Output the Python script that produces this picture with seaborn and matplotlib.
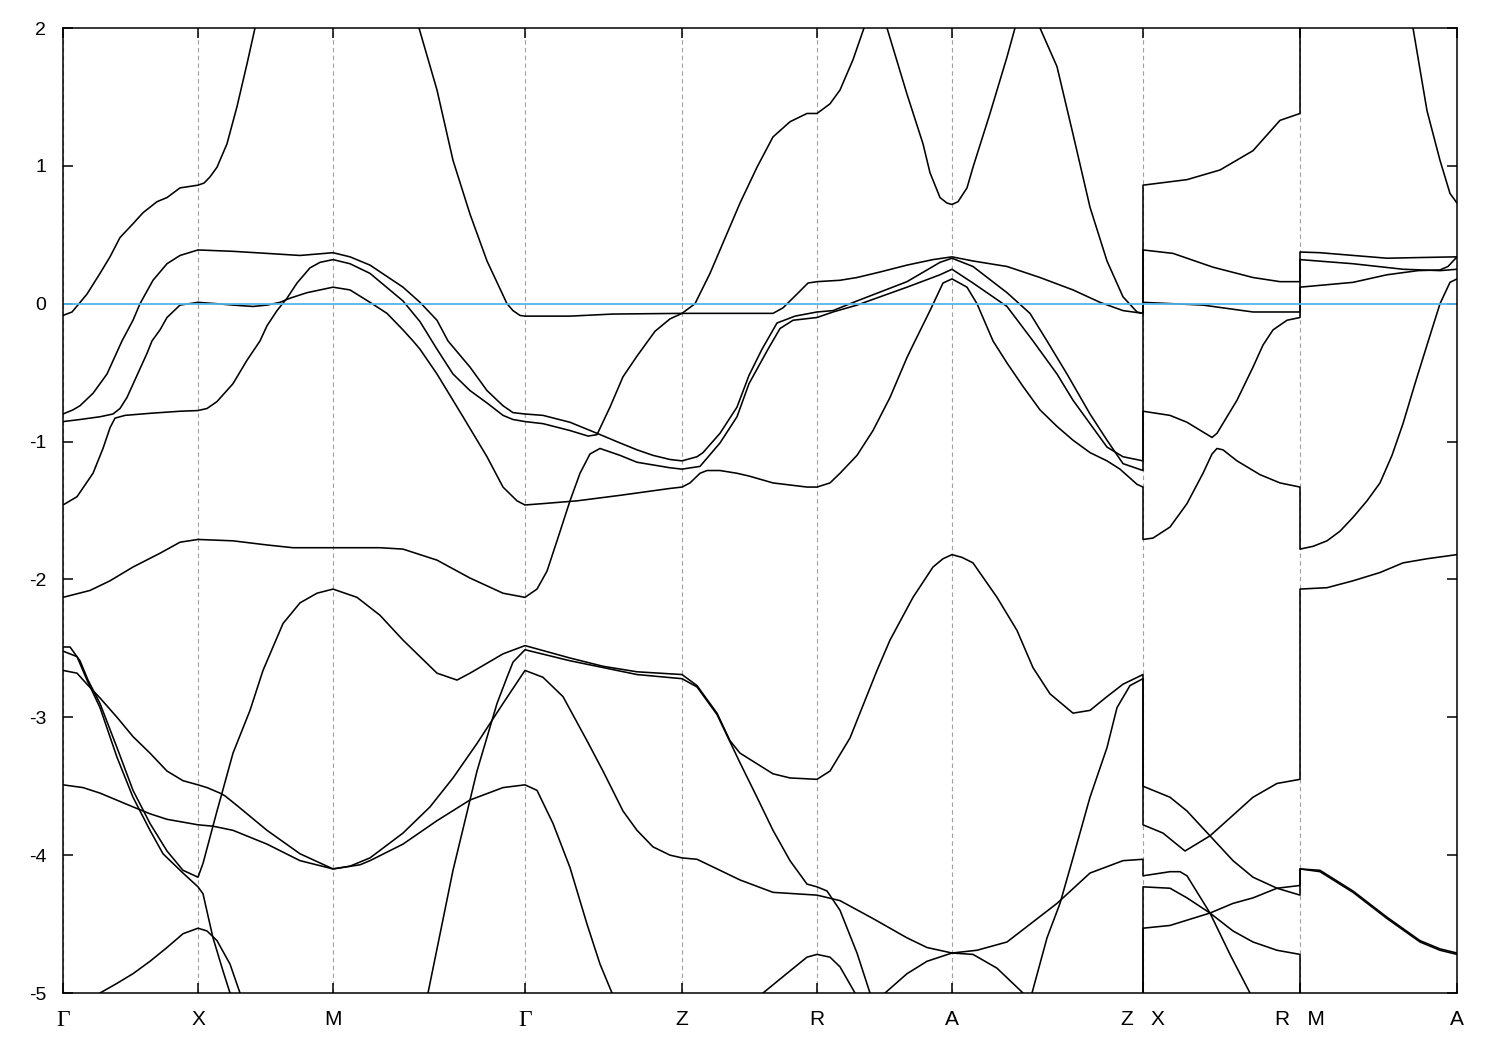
import matplotlib
matplotlib.use("Agg")
import matplotlib.pyplot as plt
import pandas as pd
import seaborn as sns

# ---------------- data ----------------
# high-symmetry points along the k-path (path distance units)
kpoint_pos = [0, 135, 270, 462, 619, 754, 889, 1080, 1237, 1394]
kpoint_labels = ["Γ", "X", "M", "Γ", "Z", "R", "A", "Z   X", "R   M", "A"]
fermi_level = 0.0
y_ticks = [-5, -4, -3, -2, -1, 0, 1, 2]
y_tick_labels = ["-5", "-4", "-3", "-2", "-1", "0", "1", "2"]

band_01_k = [0, 9, 16, 24, 37, 47, 57, 70, 80, 94, 104, 117, 135, 141, 147, 154, 164, 174, 184, 192, 207,
             270, 337, 356, 374, 390, 407, 424, 444, 450, 457, 462, 507, 550, 619, 710, 720, 734, 745, 754, 777, 794,
             817, 844, 870, 889, 910, 944, 977, 1010, 1037, 1060, 1080, 1080, 1124, 1157, 1190, 1217, 1237, 1237, 1337, 1350,
             1364, 1377, 1387, 1394]
band_01_e = [-0.085, -0.06, 0.0, 0.07, 0.22, 0.34, 0.48, 0.58, 0.66, 0.74, 0.77, 0.84, 0.86, 0.875, 0.92, 0.99, 1.16, 1.43, 1.74, 2.0, 2.5,
             4.0, 2.6, 2.0, 1.55, 1.04, 0.65, 0.31, 0.0, -0.05, -0.085, -0.09, -0.09, -0.075, -0.07, -0.07, -0.03, 0.07, 0.15, 0.16, 0.17, 0.19,
             0.23, 0.28, 0.32, 0.34, 0.31, 0.27, 0.19, 0.10, 0.01, -0.05, -0.07, 0.86, 0.90, 0.97, 1.11, 1.33, 1.38, 3.5, 2.2, 2.0,
             1.40, 1.04, 0.80, 0.73]

band_02_k = [0, 10, 17, 30, 44, 59, 70, 77, 90, 104, 117, 135, 170, 204, 237, 270, 287, 307, 340, 357,
             374, 385, 407, 424, 440, 450, 462, 480, 507, 534, 557, 574, 590, 607, 619, 634, 640, 657, 674, 686,
             699, 714, 732, 754, 770, 794, 844, 877, 889, 910, 944, 967, 984, 1004, 1027, 1044, 1060, 1080, 1080, 1107,
             1124, 1149, 1154, 1174, 1190, 1200, 1210, 1224, 1237, 1237, 1290, 1324, 1355, 1377, 1385, 1394]
band_02_e = [-0.80, -0.77, -0.74, -0.65, -0.51, -0.27, -0.12, 0.0, 0.17, 0.29, 0.35, 0.39, 0.38, 0.365, 0.35, 0.37, 0.34, 0.28, 0.12, 0.01,
             -0.12, -0.27, -0.46, -0.63, -0.74, -0.79, -0.80, -0.81, -0.86, -0.94, -1.01, -1.06, -1.10, -1.13, -1.14, -1.11, -1.08, -0.94, -0.75, -0.52,
             -0.33, -0.14, -0.09, -0.06, -0.05, 0.02, 0.16, 0.30, 0.33, 0.27, 0.08, -0.07, -0.27, -0.51, -0.80, -0.99, -1.16, -1.21, -0.78, -0.81,
             -0.86, -0.97, -0.94, -0.70, -0.46, -0.30, -0.19, -0.12, -0.10, 0.12, 0.155, 0.21, 0.24, 0.245, 0.27, 0.34]

band_03_k = [0, 17, 37, 50, 57, 64, 74, 84, 89, 97, 104, 117, 135, 154, 170, 190, 204, 217, 227, 244,
             270, 287, 307, 324, 340, 350, 357, 374, 400, 424, 440, 454, 462, 480, 514, 557, 607, 619, 627, 637,
             644, 657, 674, 686, 710, 744, 754, 767, 777, 794, 810, 827, 844, 850, 867, 880, 889, 904, 914, 930,
             944, 960, 977, 994, 1010, 1027, 1044, 1057, 1074, 1080,
             1080, 1090, 1107, 1124, 1140, 1149, 1154, 1160, 1174, 1197, 1217, 1237,
             1237, 1250, 1264, 1277, 1290, 1304, 1317, 1329, 1340, 1352, 1364, 1377, 1387, 1394]
band_03_e = [-0.855, -0.84, -0.82, -0.80, -0.76, -0.68, -0.52, -0.36, -0.27, -0.19, -0.10, -0.01, 0.01, 0.0, -0.01, -0.02, -0.01, 0.01, 0.04, 0.08,
             0.12, 0.10, 0.01, -0.07, -0.19, -0.27, -0.33, -0.51, -0.82, -1.11, -1.33, -1.43, -1.46, -1.45, -1.43, -1.39, -1.34, -1.33, -1.30, -1.23,
             -1.21, -1.21, -1.23, -1.25, -1.30, -1.33, -1.33, -1.30, -1.23, -1.10, -0.92, -0.68, -0.39, -0.30, -0.05, 0.15, 0.18, 0.12, 0.0, -0.27,
             -0.43, -0.60, -0.77, -0.89, -0.99, -1.08, -1.14, -1.20, -1.31, -1.33,
             -1.71, -1.70, -1.62, -1.45, -1.23, -1.09, -1.05, -1.06, -1.14, -1.24, -1.30, -1.33,
             -1.78, -1.76, -1.72, -1.65, -1.55, -1.43, -1.30, -1.10, -0.87, -0.58, -0.30, 0.0, 0.155, 0.18]

band_04_k = [0, 14, 30, 40, 47, 52, 62, 87, 117, 135, 144, 154, 170, 184, 197, 204, 214, 224, 234, 247,
             257, 270, 287, 307, 340, 357, 374, 390, 407, 424, 440, 450, 462, 480, 507, 525, 534, 547, 560, 574,
             584, 592, 607, 619, 632, 647, 667, 677, 694, 710, 727, 744, 754, 767, 777, 790, 801, 812, 824, 844,
             860, 867, 877, 884, 889, 895, 904, 910, 927, 944, 952, 964, 977, 994, 1010, 1027, 1044, 1060, 1074, 1080,
             1080, 1110, 1150, 1190, 1217, 1237, 1237, 1257, 1324, 1357, 1394]
band_04_e = [-1.46, -1.40, -1.23, -1.05, -0.90, -0.83, -0.81, -0.795, -0.78, -0.775, -0.76, -0.71, -0.58, -0.41, -0.27, -0.16, -0.05, 0.04, 0.15, 0.26,
             0.30, 0.32, 0.29, 0.22, 0.02, -0.13, -0.33, -0.51, -0.63, -0.72, -0.81, -0.84, -0.855, -0.87, -0.92, -0.96, -0.95, -0.75, -0.53, -0.38,
             -0.28, -0.20, -0.11, -0.07, 0.0, 0.22, 0.56, 0.73, 0.99, 1.21, 1.32, 1.38, 1.38, 1.45, 1.55, 1.77, 2.0, 2.12, 2.0, 1.52,
             1.16, 0.95, 0.77, 0.73, 0.72, 0.74, 0.84, 0.99, 1.38, 1.79, 2.0, 2.15, 2.0, 1.72, 1.23, 0.70, 0.31, 0.05, -0.06, -0.07,
             0.39, 0.365, 0.265, 0.19, 0.16, 0.16, 0.375, 0.37, 0.33, 0.335, 0.34]

band_05_k = [0, 27, 47, 70, 97, 117, 135, 170, 204, 230, 270, 317, 340, 374, 407, 440, 462, 474, 484, 494,
             507, 517, 527, 537, 557, 574, 607, 619, 637, 657, 674, 686, 705, 717, 730, 754, 770, 794, 844, 877,
             889, 910, 944, 970, 994, 1010, 1027, 1044, 1060, 1080, 1080, 1110, 1140, 1190, 1237, 1237, 1290, 1340, 1377, 1394]
band_05_e = [-2.13, -2.08, -2.01, -1.91, -1.81, -1.73, -1.71, -1.72, -1.75, -1.77, -1.77, -1.77, -1.78, -1.86, -1.99, -2.10, -2.13, -2.07, -1.94, -1.72,
             -1.43, -1.23, -1.09, -1.05, -1.10, -1.15, -1.19, -1.20, -1.18, -1.01, -0.82, -0.58, -0.33, -0.18, -0.12, -0.10, -0.06, -0.01, 0.12, 0.21,
             0.25, 0.15, -0.02, -0.27, -0.51, -0.70, -0.87, -1.04, -1.11, -1.14, 0.01, 0.0, -0.01, -0.06, -0.06, 0.32, 0.29, 0.25, 0.24, 0.25]

band_06_k = [0, 7, 17, 25, 37, 54, 70, 87, 104, 120, 135, 140, 147, 154, 159, 170, 187, 200, 220, 237,
             254, 270, 294, 317, 340, 374, 394, 407, 440, 462, 507, 540, 574, 619, 634, 654, 667, 677, 710, 727, 754,
             767, 787, 814, 827, 850, 870, 880, 889, 899, 910, 934, 954, 970, 987, 1010, 1027, 1044, 1060, 1080, 1080, 1107, 1124,
             1147, 1170, 1190, 1214, 1237, 1237, 1257, 1290, 1324, 1357, 1377, 1394]
band_06_e = [-2.49, -2.49, -2.59, -2.73, -2.90, -3.22, -3.53, -3.77, -3.97, -4.11, -4.16, -4.06, -3.87, -3.68, -3.55, -3.26, -2.95, -2.66, -2.32, -2.17,
             -2.10, -2.07, -2.13, -2.26, -2.44, -2.68, -2.73, -2.68, -2.54, -2.48, -2.57, -2.63, -2.67, -2.69, -2.77, -2.97, -3.17, -3.26, -3.41, -3.44, -3.45,
             -3.39, -3.15, -2.66, -2.44, -2.13, -1.91, -1.85, -1.82, -1.84, -1.88, -2.13, -2.37, -2.64, -2.83, -2.97, -2.95, -2.85, -2.76, -2.69, -3.50, -3.58, -3.68,
             -3.86, -4.04, -4.16, -4.24, -4.29, -4.10, -4.11, -4.26, -4.45, -4.62, -4.68, -4.71]

band_07_k = [0, 14, 24, 37, 54, 70, 87, 100, 120, 135, 140, 150, 160, 167, 197, 270, 337, 365, 390, 414,
             434, 444, 450, 462, 507, 574, 619, 634, 654, 677, 694, 710, 727, 744, 754, 764, 777, 794, 807, 827,
             889, 947, 969, 984, 997, 1010, 1027, 1044, 1054, 1067, 1080, 1080, 1100, 1122, 1147, 1167, 1190, 1214, 1237, 1237,
             1264, 1290, 1317, 1340, 1364, 1394]
band_07_e = [-2.52, -2.56, -2.73, -2.93, -3.29, -3.58, -3.82, -3.99, -4.13, -4.23, -4.28, -4.60, -4.84, -5.0, -5.6, -6.0, -5.6, -5.0, -4.11, -3.39,
             -2.90, -2.71, -2.60, -2.51, -2.59, -2.69, -2.72, -2.78, -2.98, -3.33, -3.58, -3.82, -4.04, -4.21, -4.23, -4.26, -4.40, -4.71, -5.0, -5.5,
             -6.0, -5.5, -5.0, -4.60, -4.35, -4.02, -3.58, -3.22, -2.93, -2.77, -2.72, -3.78, -3.84, -3.97, -3.86, -3.73, -3.58, -3.48, -3.45, -2.07,
             -2.06, -2.01, -1.95, -1.88, -1.85, -1.82]

band_08_k = [0, 14, 24, 37, 54, 70, 87, 104, 120, 135, 144, 157, 162, 174, 204, 237, 270, 287, 307, 340,
             367, 390, 414, 440, 462, 480, 500, 524, 540, 560, 574, 590, 607, 619, 634, 657, 677, 710, 754, 777,
             810, 844, 864, 889, 914, 944, 994, 1027, 1060, 1080, 1080, 1107, 1117, 1124, 1147, 1167, 1187, 1237]
band_08_e = [-2.66, -2.68, -2.76, -2.86, -3.00, -3.14, -3.26, -3.39, -3.46, -3.49, -3.51, -3.55, -3.57, -3.64, -3.82, -3.99, -4.10, -4.08, -4.02, -3.84,
             -3.65, -3.44, -3.19, -2.90, -2.66, -2.71, -2.85, -3.17, -3.39, -3.68, -3.82, -3.94, -4.00, -4.02, -4.03, -4.11, -4.18, -4.27, -4.29, -4.33,
             -4.46, -4.60, -4.67, -4.71, -4.69, -4.63, -4.35, -4.13, -4.04, -4.03, -4.15, -4.12, -4.12, -4.15, -4.42, -4.72, -5.0, -5.6]

band_09_k = [0, 20, 37, 70, 87, 104, 135, 150, 170, 204, 237, 270, 297, 307, 340, 374, 407, 440, 462, 474,
             490, 507, 524, 537, 549, 577]
band_09_e = [-3.49, -3.51, -3.55, -3.65, -3.70, -3.74, -3.78, -3.79, -3.82, -3.92, -4.04, -4.10, -4.07, -4.04, -3.92, -3.75, -3.60, -3.51, -3.49, -3.53,
             -3.77, -4.09, -4.50, -4.79, -5.0, -5.6]

band_10_k = [0, 37, 54, 70, 87, 104, 120, 135, 144, 154, 167, 177, 207]
band_10_e = [-5.6, -5.0, -4.93, -4.86, -4.77, -4.67, -4.57, -4.53, -4.55, -4.62, -4.79, -5.0, -5.6]

band_11_k = [677, 700, 727, 744, 754, 767, 777, 792, 817]
band_11_e = [-5.6, -5.0, -4.84, -4.74, -4.72, -4.74, -4.81, -5.0, -5.6]

band_12_k = [797, 822, 844, 864, 889, 910, 934, 960, 987]
band_12_e = [-5.6, -5.0, -4.86, -4.77, -4.71, -4.72, -4.82, -5.0, -5.6]

band_13_k = [1080, 1080, 1107, 1124, 1147, 1170, 1190, 1214, 1237, 1237]
band_13_e = [-5.6, -4.23, -4.24, -4.31, -4.42, -4.55, -4.63, -4.69, -4.72, -5.6]

band_14_k = [1080, 1080, 1107, 1147, 1170, 1190, 1214, 1237, 1237, 1257, 1290, 1324, 1357, 1377, 1394]
band_14_e = [-5.6, -4.53, -4.51, -4.42, -4.35, -4.31, -4.24, -4.22, -4.10, -4.12, -4.27, -4.46, -4.63, -4.69, -4.72]

bands = [
    (band_01_k, band_01_e), (band_02_k, band_02_e), (band_03_k, band_03_e), (band_04_k, band_04_e),
    (band_05_k, band_05_e), (band_06_k, band_06_e), (band_07_k, band_07_e), (band_08_k, band_08_e),
    (band_09_k, band_09_e), (band_10_k, band_10_e), (band_11_k, band_11_e), (band_12_k, band_12_e),
    (band_13_k, band_13_e), (band_14_k, band_14_e),
]

rows = []
mismatch = []
for i, (ks, es) in enumerate(bands):
    if len(ks) != len(es):
        mismatch.append((i + 1, len(ks), len(es)))
    n = min(len(ks), len(es))
    for j in range(n):
        rows.append({"band": i, "k": ks[j], "E": es[j]})
df = pd.DataFrame(rows)
if mismatch:
    print("length mismatch:", mismatch)

# ---------------- plot ----------------
sns.set_style("ticks")
plt.rcParams["font.family"] = ["Liberation Sans", "DejaVu Sans"]
plt.rcParams["axes.unicode_minus"] = False

fig = plt.figure(figsize=(15, 10.5), dpi=100)
ax = fig.add_axes([63 / 1500, 1 - 993 / 1050, 1394 / 1500, 965 / 1050])

for x in kpoint_pos:
    ax.axvline(x, color="#a0a0a0", lw=0.8, ls=(0, (4, 3)), zorder=0)

sns.lineplot(data=df, x="k", y="E", units="band", estimator=None, sort=False,
             color="black", lw=1.15, ax=ax, zorder=2, legend=False)

ax.axhline(fermi_level, color="#56B4E9", lw=1.3, zorder=3)

ax.set_xlim(kpoint_pos[0], kpoint_pos[-1])
ax.set_ylim(-5, 2)
ax.set_xticks(kpoint_pos)
ax.set_xticklabels(kpoint_labels)
ax.set_yticks(y_ticks)
ax.set_yticklabels(y_tick_labels)
ax.set_xlabel("")
ax.set_ylabel("")

ax.tick_params(direction="in", length=7, width=1.1, top=True, right=True, colors="black")
ax.tick_params(axis="x", pad=12, labelsize=15)
ax.tick_params(axis="y", pad=12, labelsize=14)
for lab in ax.get_xticklabels():
    if lab.get_text() == "Γ":
        lab.set_fontfamily(["Liberation Serif", "DejaVu Serif"])
        lab.set_fontsize(17)
for sp in ax.spines.values():
    sp.set_linewidth(1.1)
    sp.set_color("black")
    sp.set_zorder(5)

fig.savefig("out.png", dpi=100)
